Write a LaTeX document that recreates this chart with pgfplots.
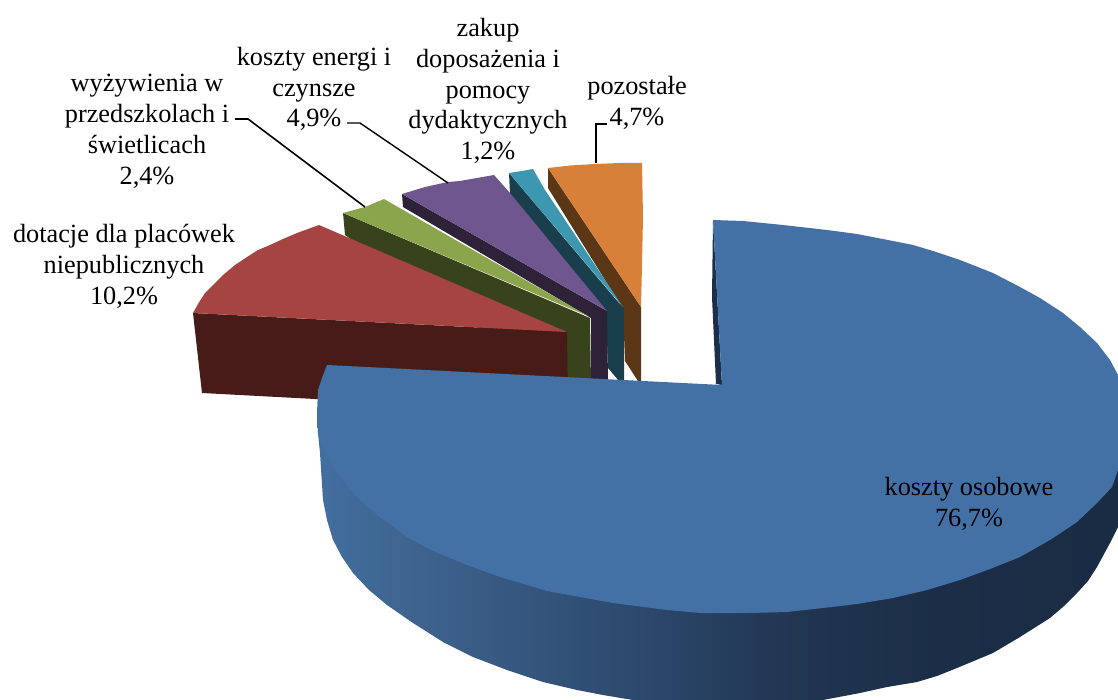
\documentclass[border=0pt]{standalone}
\usepackage{pgfplots}
\pgfplotsset{compat=1.18}
\usepackage{fontspec}
\setmainfont{Liberation Serif}
\definecolor{btop}{HTML}{4371A6}
\definecolor{bstrip}{HTML}{1C2F4A}
\definecolor{rtop}{HTML}{A54441}
\definecolor{rside}{HTML}{471C18}
\definecolor{gtop}{HTML}{8AA54B}
\definecolor{gside}{HTML}{38431C}
\definecolor{ptop}{HTML}{70568F}
\definecolor{pside}{HTML}{2D2238}
\definecolor{ttop}{HTML}{3E97B0}
\definecolor{tside}{HTML}{1A3F4C}
\definecolor{otop}{HTML}{D7803A}
\definecolor{oside}{HTML}{5B3716}
\definecolor{s0}{HTML}{426E9F}
\definecolor{s1}{HTML}{3F6590}
\definecolor{s2}{HTML}{2A4568}
\definecolor{s3}{HTML}{203550}
\definecolor{s4}{HTML}{1C2E47}
\definecolor{s5}{HTML}{1A2C44}
\pgfdeclarehorizontalshading{sideblue}{100bp}{color(0bp)=(s0); color(25bp)=(s0); color(30.2bp)=(s1); color(46.8bp)=(s2); color(55.1bp)=(s3); color(63.5bp)=(s4); color(75bp)=(s5); color(100bp)=(s5)}
\tikzset{lab/.style={font=\fontsize{26.3}{30.9}\selectfont, align=center, inner sep=0pt, text=black, anchor=center}}
\begin{document}
\begin{tikzpicture}
\begin{axis}[
  width=1118pt, height=700pt, scale only axis,
  xmin=0, xmax=1118, ymin=0, ymax=700, y dir=reverse,
  hide axis, clip=true,
]
% page extent (white)
\addplot[white, line width=0.2pt] coordinates {(0,0)(1118,0)(1118,700)(0,700)(0,0)};
% orange
\addplot[fill=oside, draw=none] coordinates {(548,168)(641,307)(641,381)(638,381)(625,361)(623,309)(548,188)};
\addplot[fill=otop, draw=none] coordinates {(548,168)(570,165.5)(595,164)(620,163)(642,163)(643,217)(642,265)(641,307)};
% teal
\addplot[fill=tside, draw=none] coordinates {(509,173)(624,309)(624,381)(619,381)(608,368)(606,311)(510,194)};
\addplot[fill=ttop, draw=none] coordinates {(509,173)(522,171)(533,169)(545,190)(623,307)};
% purple
\addplot[fill=pside, draw=none] coordinates {(402,194)(607,311)(608,381)(591,381)(591,318)(403,207)};
\addplot[fill=ptop, draw=none] coordinates {(402,194)(425,187)(448,182)(460,181)(494,175)(510,193)(607,311)};
% green
\addplot[fill=gside, draw=none] coordinates {(343,213)(590,318)(591,385)(560,385)(345,235)};
\addplot[fill=gtop, draw=none] coordinates {(343,213)(365,207)(384,199)(588,316)};
% red
\addplot[fill=rside, draw=none] coordinates {(193,313)(567,332)(568,412)(315,399)(202,393)};
\addplot[fill=rtop, draw=none] coordinates {(193,313)(198,304)(205,293)(214,284)(223,275)(235,265)(247,257)(258,250)(270,245)(283,239)(297,233)(308,229)(319,225)(567,332)};
% blue side
\addplot[shade, shading=sideblue, draw=none] coordinates {(317,413)(318,433)(320,453)(323,500)(327,520)(333,540)(342,557)(353,573)(369,590)(387,605)(413,623)(443,642)(473,657)(507,670)(543,682)(577,690)(603,695)(633,700)(823,700)(860,693)(887,687)(917,682)(937,676)(957,668)(993,653)(1020,637)(1050,618)(1064,606)(1077,593)(1088,581)(1097,567)(1110,543)(1118,527)(1118,440)(700,500)};
% blue inner strip
\addplot[fill=bstrip, draw=none] coordinates {(713,220)(722,385)(716,384)(712,297)};
% blue top
\addplot[fill=btop, draw=none] coordinates {(713,220)(743,221)(783,225)(827,230)(857,234)(893,241)(913,245)(933,251)(960,260)(993,273)(1020,287)(1040,298)(1063,313)(1080,327)(1097,343)(1110,360)(1118,375)(1118,470)(1112,487)(1097,503)(1077,522)(1050,540)(1020,557)(990,569)(960,580)(927,590)(893,598)(857,604)(823,608)(787,612)(750,613)(700,613)(667,610)(613,603)(547,591)(500,577)(467,565)(433,551)(407,537)(380,517)(357,497)(337,473)(325,453)(318,433)(317,413)(318,390)(322,378)(327,365)(722,385)};
% leader lines
\addplot[black, line width=1.6pt] coordinates {(235,119)(248,119)(365,207)};
\addplot[black, line width=1.4pt] coordinates {(347,123)(360,123)(448,183)};
\addplot[black, line width=1.2pt] coordinates {(607,124)(596,124)(596,163)};
% labels
\node[lab] at (axis cs:969,504) {koszty osobowe\\76,7\%};
\node[lab] at (axis cs:124,266) {dotacje dla placówek\\niepublicznych\\10,2\%};
\node[lab] at (axis cs:147,131) {wyżywienia w\\przedszkolach i\\świetlicach\\2,4\%};
\node[lab] at (axis cs:314,89) {koszty energi i\\czynsze\\4,9\%};
\node[lab] at (axis cs:488,91) {zakup\\doposażenia i\\pomocy\\dydaktycznych\\1,2\%};
\node[lab] at (axis cs:637,103) {pozostałe\\4,7\%};
\end{axis}
\end{tikzpicture}
\end{document}
